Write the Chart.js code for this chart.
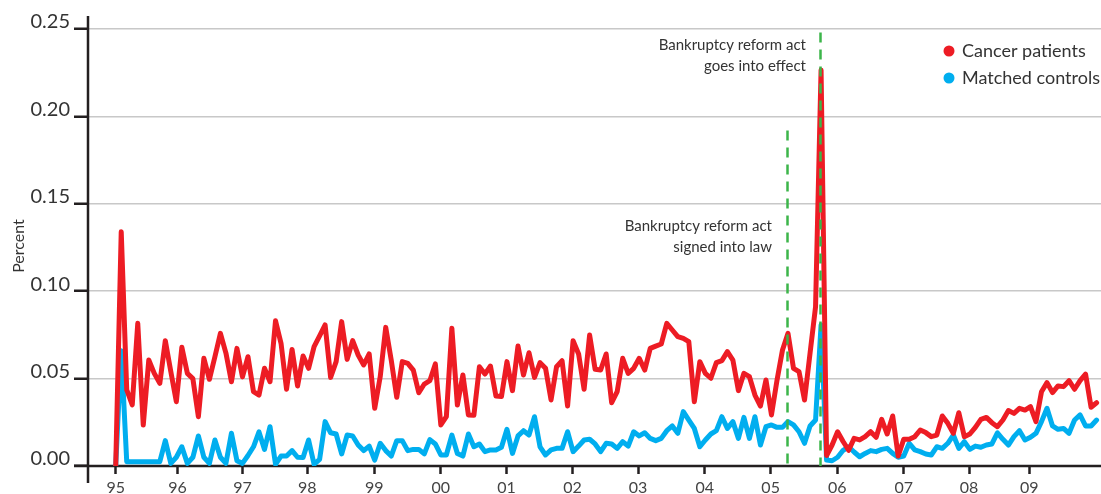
<!DOCTYPE html>
<html>
<head>
<meta charset="utf-8">
<script src="https://cdn.jsdelivr.net/npm/chart.js@4.4.1/dist/chart.umd.min.js"></script>
<style>
  html, body { margin: 0; padding: 0; background: #fff; }
  #wrap { width: 1101px; height: 494px; }
</style>
</head>
<body>
<div id="wrap"><canvas id="chart" width="1101" height="494"></canvas></div>
<script>
// monthly share with a bankruptcy filing, month index 0 = first month of 1995
const cancerPatients = [
  0, 0.134, 0.0435, 0.035, 0.0816, 0.0234, 0.0606, 0.053, 0.0473, 0.0717,
  0.054, 0.0368, 0.0679, 0.053, 0.050, 0.0282, 0.0616, 0.0496, 0.0625, 0.0759,
  0.0646, 0.0482, 0.0673, 0.051, 0.0625, 0.0425, 0.0406, 0.0559, 0.0482, 0.0831,
  0.0702, 0.0439, 0.0667, 0.0458, 0.0629, 0.0559, 0.0683, 0.0744, 0.0807, 0.0507,
  0.0597, 0.0826, 0.061, 0.0717, 0.0635, 0.0578, 0.0641, 0.033, 0.0511, 0.0793,
  0.0606, 0.0393, 0.0597, 0.0587, 0.0549, 0.0419, 0.0469, 0.0488, 0.0584, 0.0235,
  0.0282, 0.0788, 0.0349, 0.0521, 0.0292, 0.029, 0.0568, 0.0526, 0.0572, 0.04,
  0.0397, 0.0597, 0.0431, 0.0686, 0.0521, 0.0648, 0.0507, 0.0591, 0.0559, 0.0378,
  0.0568, 0.0602, 0.0343, 0.0717, 0.0641, 0.0439, 0.0749, 0.0553, 0.0549, 0.0641,
  0.0362, 0.0425, 0.0616, 0.053, 0.0559, 0.0616, 0.0549, 0.0673, 0.0686, 0.0698,
  0.0816, 0.0778, 0.074, 0.073, 0.0711, 0.0368, 0.0597, 0.053, 0.0502, 0.0591,
  0.0603, 0.0654, 0.0606, 0.0431, 0.053, 0.0511, 0.0406, 0.0343, 0.0492, 0.0292,
  0.049, 0.0664, 0.0759, 0.0559, 0.054, 0.0378, 0.0645, 0.0911, 0.2265, 0.006,
  0.012, 0.0196, 0.014, 0.009, 0.0158, 0.0149, 0.0168, 0.0196, 0.0164, 0.0267,
  0.0183, 0.0286, 0.0057, 0.0153, 0.0153, 0.0168, 0.0206, 0.0191, 0.0168, 0.0177,
  0.0286, 0.0244, 0.0187, 0.0305, 0.0168, 0.0183, 0.0221, 0.0267, 0.0278, 0.0248,
  0.0225, 0.0263, 0.0317, 0.0301, 0.033, 0.032, 0.034, 0.0254, 0.0425, 0.0477,
  0.042, 0.0458, 0.0454, 0.0488, 0.0439, 0.0488, 0.0526, 0.0336, 0.0362
];

const matchedControls = [
  0, 0.066, 0.0025, 0.0025, 0.0025, 0.0025, 0.0025, 0.0025, 0.0025, 0.0145,
  0.0015, 0.005, 0.011, 0.0015, 0.005, 0.0172, 0.005, 0.0015, 0.0149, 0.005,
  0.0015, 0.0187, 0.003, 0.0015, 0.006, 0.011, 0.0195, 0.0095, 0.0225, 0.001,
  0.0057, 0.0057, 0.0088, 0.005, 0.0048, 0.0149, 0.001, 0.0038, 0.0254, 0.019,
  0.0183, 0.0069, 0.0177, 0.0172, 0.012, 0.0088, 0.0114, 0.0034, 0.013, 0.0088,
  0.0057, 0.0145, 0.0145, 0.0088, 0.0095, 0.0095, 0.0069, 0.0151, 0.0126, 0.0063,
  0.0063, 0.0177, 0.0072, 0.0057, 0.0183, 0.011, 0.0126, 0.0082, 0.0092, 0.0092,
  0.0107, 0.021, 0.0072, 0.0172, 0.0202, 0.0177, 0.0282, 0.011, 0.0063, 0.0092,
  0.0101, 0.0101, 0.0196, 0.0082, 0.0114, 0.0149, 0.0153, 0.0126, 0.0082, 0.013,
  0.0126, 0.0101, 0.0139, 0.0114, 0.0196, 0.0172, 0.019, 0.0158, 0.0145, 0.0158,
  0.0202, 0.0229, 0.0187, 0.0311, 0.0263, 0.0215, 0.011, 0.0149, 0.0183, 0.0202,
  0.0282, 0.0215, 0.0254, 0.0158, 0.0278, 0.0158, 0.0282, 0.012, 0.0225, 0.0235,
  0.0221, 0.0221, 0.0254, 0.0235, 0.0196, 0.013, 0.0229, 0.0263, 0.0807, 0.0034,
  0.003, 0.005, 0.009, 0.011, 0.008, 0.0053, 0.0072, 0.0088, 0.0082, 0.0095,
  0.0101, 0.0072, 0.005, 0.0057, 0.013, 0.0092, 0.0082, 0.0069, 0.0063, 0.011,
  0.0101, 0.013, 0.0177, 0.0101, 0.0139, 0.0095, 0.0114, 0.0107, 0.012, 0.0126,
  0.019, 0.0153, 0.012, 0.0168, 0.0202, 0.0149, 0.0164, 0.0187, 0.0254, 0.033,
  0.0229, 0.021, 0.0215, 0.0187, 0.0263, 0.0292, 0.0229, 0.0229, 0.0263
];

const yearLabels = ['95', '96', '97', '98', '99', '00', '01', '02', '03', '04', '05', '06', '07', '08', '09'];
// where each year tick sits, in month-index units
const yearTickPos = [0, 11.2, 23.0, 34.75, 46.9, 59.0, 70.9, 82.9, 94.8, 106.9, 118.85, 130.95, 143.0, 154.85, 165.8];

const signedIntoLaw = 121.8;   // month index, dashed line
const goesIntoEffect = 127.8;
const signedTop = 0.192, effectTop = 0.248;  // how high each dashed line reaches

const RED = '#ed1c24', BLUE = '#00aeef', GREEN = '#3cb54a', INK = '#231f20';
const FONT = 'Lato, "Noto Sans", sans-serif';

const toPoints = arr => arr.map((v, i) => ({ x: i, y: v }));

const decor = {
  id: 'decor',
  beforeDatasetsDraw(chart) {
    const { ctx, chartArea } = chart;
    const y0 = chart.scales.y.getPixelForValue(0);
    ctx.save();
    ctx.strokeStyle = INK;
    ctx.lineWidth = 2.5;
    ctx.beginPath();
    ctx.moveTo(chartArea.left, 16);
    ctx.lineTo(chartArea.left, 483);
    ctx.moveTo(74, y0);
    ctx.lineTo(1101, y0);
    ctx.stroke();
    ctx.restore();
  },
  afterDatasetsDraw(chart) {
    const { ctx } = chart;
    const xs = chart.scales.x, ys = chart.scales.y;
    const y0 = ys.getPixelForValue(0);
    ctx.save();
    // event markers
    ctx.strokeStyle = GREEN;
    ctx.lineWidth = 2.5;
    ctx.setLineDash([10, 7]);
    [[signedIntoLaw, signedTop], [goesIntoEffect, effectTop]].forEach(([m, top]) => {
      const px = Math.round(xs.getPixelForValue(m)) + 0.5;
      ctx.beginPath();
      ctx.moveTo(px, ys.getPixelForValue(top));
      ctx.lineTo(px, y0);
      ctx.stroke();
    });
    ctx.setLineDash([]);

    // annotations
    ctx.fillStyle = '#333';
    ctx.font = '15px ' + FONT;
    ctx.textAlign = 'right';
    ctx.textBaseline = 'middle';
    ctx.fillText('Bankruptcy reform act', 806, 45);
    ctx.fillText('goes into effect', 806, 66);
    ctx.fillText('Bankruptcy reform act', 772, 226);
    ctx.fillText('signed into law', 772, 247);

    // legend
    ctx.textAlign = 'left';
    ctx.font = '18px ' + FONT;
    [[RED, 'Cancer patients', 51], [BLUE, 'Matched controls', 78]].forEach(([c, t, y]) => {
      ctx.fillStyle = c;
      ctx.beginPath();
      ctx.arc(949, y, 5.5, 0, Math.PI * 2);
      ctx.fill();
      ctx.fillStyle = '#333';
      ctx.fillText(t, 962, y);
    });

    // axis title
    ctx.translate(19, 246);
    ctx.rotate(-Math.PI / 2);
    ctx.textAlign = 'center';
    ctx.font = '16px ' + FONT;
    ctx.fillText('Percent', 0, 0);
    ctx.restore();
  }
};

new Chart(document.getElementById('chart'), {
  type: 'line',
  data: {
    datasets: [
      {
        label: 'Cancer patients',
        data: toPoints(cancerPatients),
        borderColor: RED,
        borderWidth: 5,
        pointRadius: 0,
        tension: 0,
        borderJoinStyle: 'round',
        borderCapStyle: 'round'
      },
      {
        label: 'Matched controls',
        data: toPoints(matchedControls),
        borderColor: BLUE,
        borderWidth: 5,
        pointRadius: 0,
        tension: 0,
        borderJoinStyle: 'round',
        borderCapStyle: 'round'
      }
    ]
  },
  options: {
    responsive: false,
    animation: false,
    devicePixelRatio: 1,
    layout: { padding: { top: 29, left: 0, right: 0, bottom: 0 } },
    plugins: {
      legend: { display: false },
      tooltip: { enabled: false }
    },
    scales: {
      x: {
        type: 'linear',
        min: -5.03,
        max: 178.8,
        afterBuildTicks: scale => {
          scale.ticks = yearTickPos.map(v => ({ value: v }));
        },
        afterFit: scale => { scale.height = 28; },
        ticks: {
          autoSkip: false,
          maxRotation: 0,
          padding: 4,
          color: '#444',
          font: { family: FONT, size: 16 },
          callback: (v, i) => yearLabels[i]
        },
        grid: {
          drawOnChartArea: false,
          drawTicks: true,
          tickLength: 8,
          tickColor: INK,
          tickWidth: 2.5
        },
        border: { display: false }
      },
      y: {
        min: 0,
        max: 0.25,
        afterFit: scale => { scale.width = 88; },
        ticks: {
          stepSize: 0.05,
          padding: 4,
          labelOffset: -7,
          color: '#333',
          font: { family: FONT, size: 20 },
          callback: v => v.toFixed(2)
        },
        grid: {
          color: '#c8c8c8',
          lineWidth: 1.5,
          drawTicks: true,
          tickLength: 14,
          tickColor: INK,
          tickWidth: 2.5
        },
        border: { display: false }
      }
    }
  },
  plugins: [decor]
});
</script>
</body>
</html>
